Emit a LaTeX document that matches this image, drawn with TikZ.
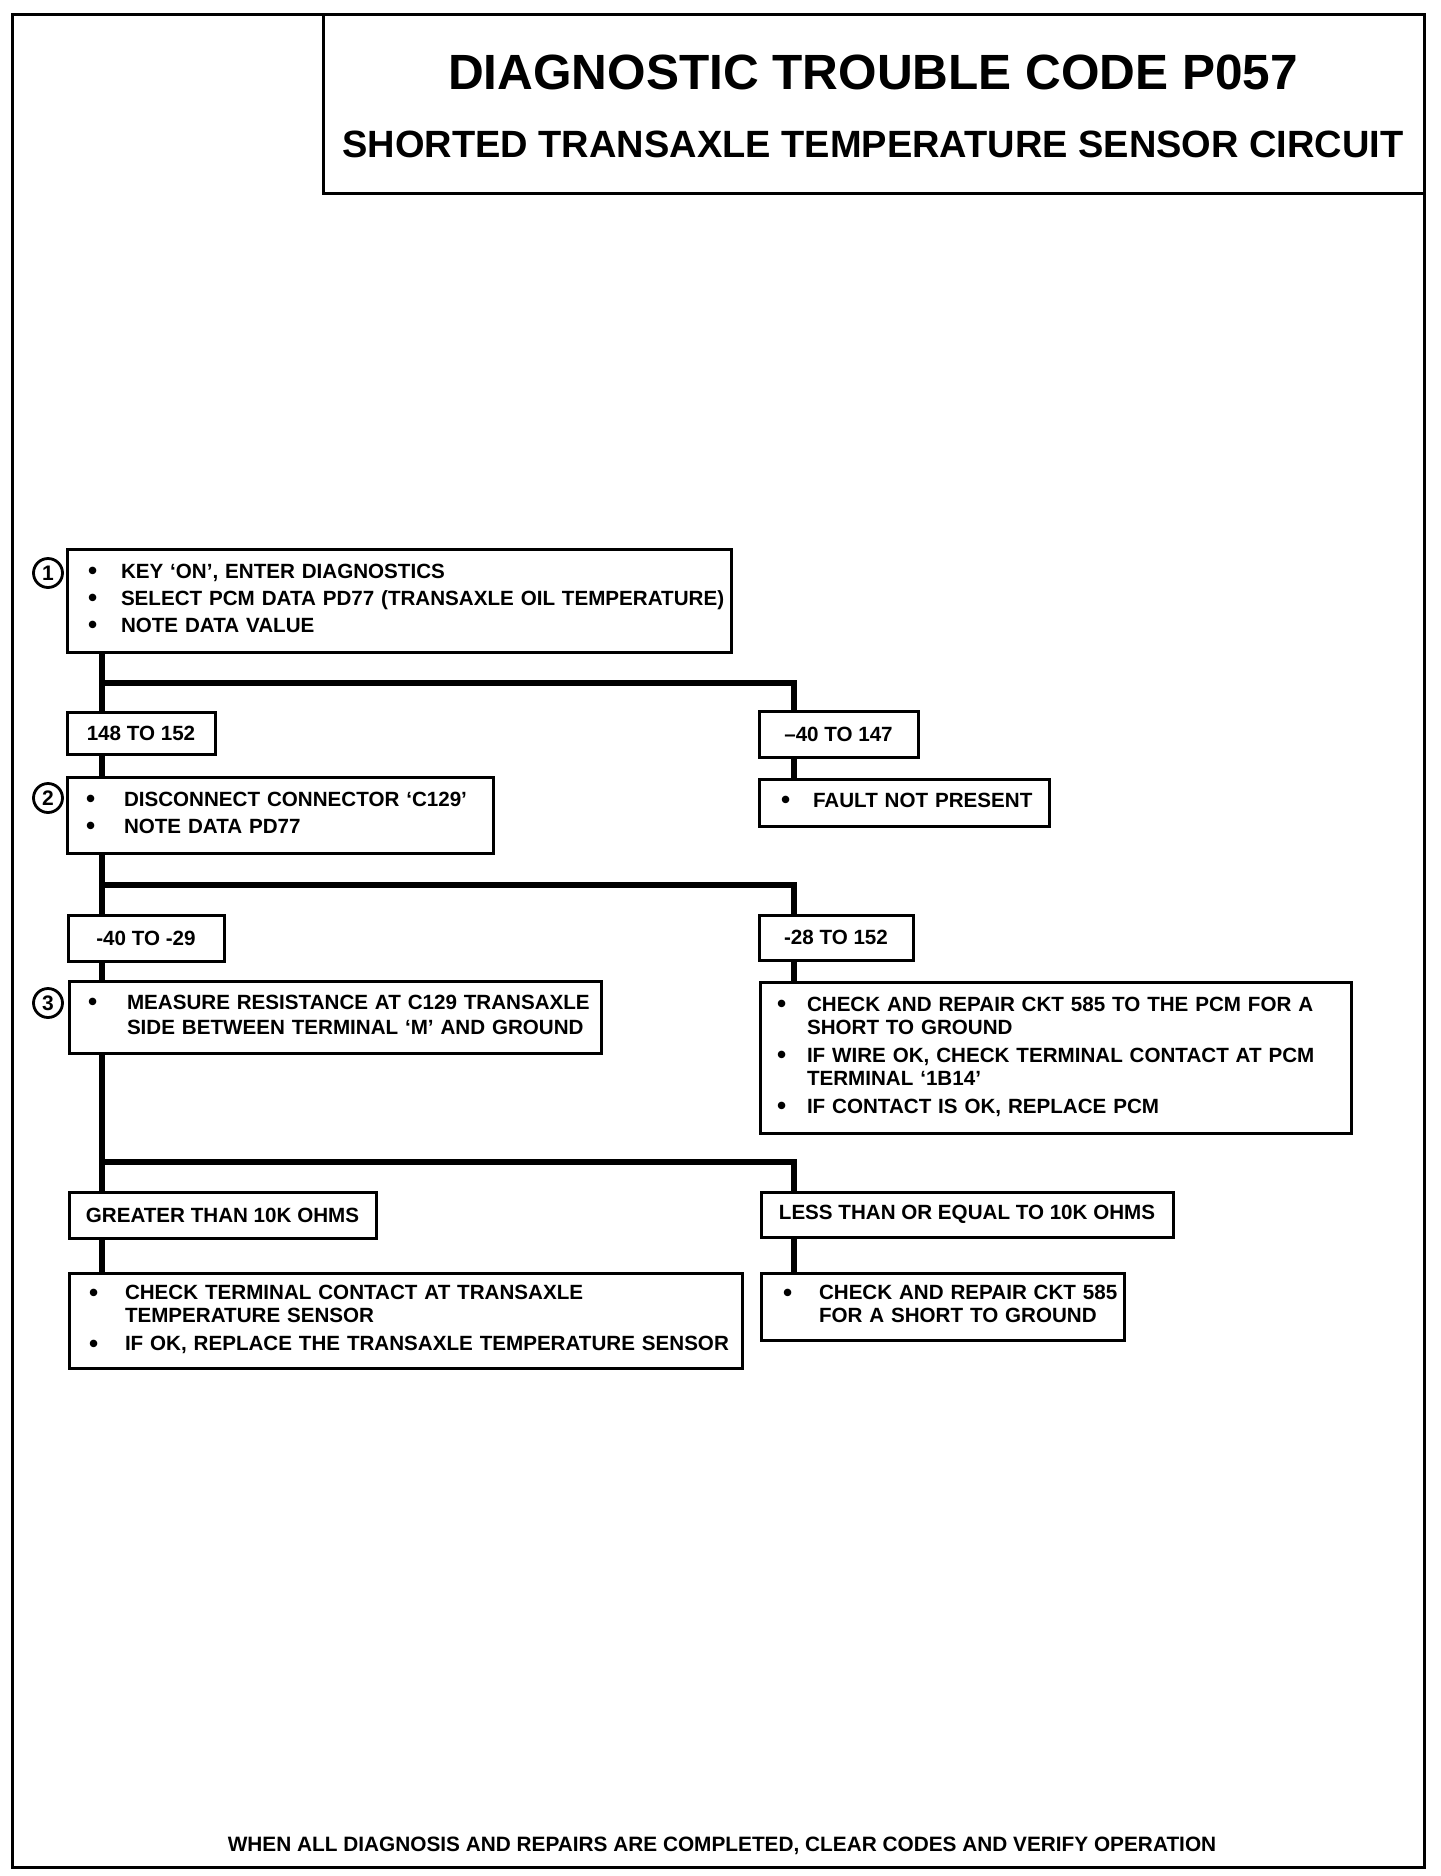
\documentclass[tikz,border=0pt]{standalone}
\usepackage{fontspec}
\setmainfont{Liberation Sans}
\newcommand\blist[2]{\begin{tabular}{@{}p{#1}@{}l@{}}#2\end{tabular}}
\newcommand\bul{\raisebox{-1.6pt}{\fontsize{26}{23}\selectfont\textbullet}}
\begin{document}
\begin{tikzpicture}[x=1pt,y=-1pt,
  frame/.style={line width=3pt},
  box/.style={draw, line width=3pt, anchor=north west, inner ysep=0pt, outer sep=0pt,
    font=\bfseries\fontsize{20.6}{23}\selectfont},
  bbox/.style={box, align=left},
  lbl/.style={box, inner xsep=0pt, align=center},
  conn/.style={line width=5.2pt, line join=miter},
  num/.style={draw, circle, line width=2.8pt, minimum size=29pt, inner sep=0pt,
    font=\bfseries\fontsize{21}{21}\selectfont},
  ttl/.style={font=\bfseries\fontsize{#1}{#1}\selectfont, inner sep=0pt},
]
\useasboundingbox (0,0) rectangle (1440,1876);
\fill[white] (0,0) rectangle (1440,1876);

% frame and title box
\draw[frame] (12,15) rectangle (1424,1867);
\draw[frame] (323,15) rectangle (1424,193);
\node[ttl=49.5] (t1) at (873,72) {DIAGNOSTIC TROUBLE CODE P057};
\node[ttl=38] (t2) at (873,144) {SHORTED TRANSAXLE TEMPERATURE SENSOR CIRCUIT};

% step 1
\node[bbox, minimum height=103pt, inner xsep=21pt, text width=622pt] (b1) at (67,549)
  {\blist{33pt}{\bul & KEY ‘ON’, ENTER DIAGNOSTICS\\[4pt]
   \bul & SELECT PCM DATA PD77 (TRANSAXLE OIL TEMPERATURE)\\[4pt]
   \bul & NOTE DATA VALUE}};
\node[num] (c1) at (48,573) {1};

\node[lbl, minimum width=148pt, minimum height=42pt] (r148) at (67,712) {148 TO 152};
\node[lbl, minimum width=159pt, minimum height=46pt] (r147) at (759,711) {–40 TO 147};

% step 2
\node[bbox, minimum height=76pt, inner xsep=19pt, text width=388pt] (b2) at (67,777)
  {\blist{38pt}{\bul & DISCONNECT CONNECTOR ‘C129’\\[4pt]
   \bul & NOTE DATA PD77}};
\node[num] (c2) at (48,798) {2};

\node[bbox, minimum height=47pt, inner xsep=22pt, text width=246pt] (fault) at (759,779)
  {\blist{32pt}{\bul & FAULT NOT PRESENT}};

\node[lbl, minimum width=156pt, minimum height=46pt] (r4029) at (68,915) {-40 TO -29};
\node[lbl, minimum width=154pt, minimum height=45pt] (r28) at (759,915) {-28 TO 152};

% step 3
\node[bbox, minimum height=72pt, inner xsep=19pt, text width=494pt] (b3) at (69,981)
  {\blist{39pt}{\bul & MEASURE RESISTANCE AT C129 TRANSAXLE\\[2pt]
   & SIDE BETWEEN TERMINAL ‘M’ AND GROUND}};
\node[num] (c3) at (48,1003) {3};

\node[bbox, minimum height=151pt, inner xsep=17pt, text width=557pt] (bR) at (760,982)
  {\blist{30pt}{\bul & CHECK AND REPAIR CKT 585 TO THE PCM FOR A\\
   & SHORT TO GROUND\\[5pt]
   \bul & IF WIRE OK, CHECK TERMINAL CONTACT AT PCM\\
   & TERMINAL ‘1B14’\\[5pt]
   \bul & IF CONTACT IS OK, REPLACE PCM}};

\node[lbl, minimum width=307pt, minimum height=46pt] (rgt) at (69,1192) {GREATER THAN 10K OHMS};
\node[lbl, minimum width=412pt, minimum height=45pt] (rless) at (761,1192) {LESS THAN OR EQUAL TO 10K OHMS};

\node[bbox, minimum height=95pt, inner xsep=20pt, text width=633pt] (resg) at (69,1273)
  {\blist{36pt}{\bul & CHECK TERMINAL CONTACT AT TRANSAXLE\\
   & TEMPERATURE SENSOR\\[5pt]
   \bul & IF OK, REPLACE THE TRANSAXLE TEMPERATURE SENSOR}};
\node[bbox, minimum height=67pt, inner xsep=22pt, text width=319pt] (resl) at (761,1273)
  {\blist{36pt}{\bul & CHECK AND REPAIR CKT 585\\
   & FOR A SHORT TO GROUND}};

\node[ttl=20.8] (ft) at (722,1846)
  {WHEN ALL DIAGNOSIS AND REPAIRS ARE COMPLETED, CLEAR CODES AND VERIFY OPERATION};

% connectors
\coordinate (tx) at (102,0);
\coordinate (rx) at (794,0);
\coordinate (j1) at (102,683);
\coordinate (j2) at (102,885);
\coordinate (j3) at (102,1162);

\draw[conn] (b1.south -| tx) -- (r148.north -| tx);
\draw[conn] (r148.south -| tx) -- (b2.north -| tx);
\draw[conn] (b2.south -| tx) -- (r4029.north -| tx);
\draw[conn] (r4029.south -| tx) -- (b3.north -| tx);
\draw[conn] (b3.south -| tx) -- (rgt.north -| tx);
\draw[conn] (rgt.south -| tx) -- (resg.north -| tx);

\draw[conn] (j1) -| (r147.north -| rx);
\draw[conn] (r147.south -| rx) -- (fault.north -| rx);
\draw[conn] (j2) -| (r28.north -| rx);
\draw[conn] (r28.south -| rx) -- (bR.north -| rx);
\draw[conn] (j3) -| (rless.north -| rx);
\draw[conn] (rless.south -| rx) -- (resl.north -| rx);
\end{tikzpicture}
\end{document}
